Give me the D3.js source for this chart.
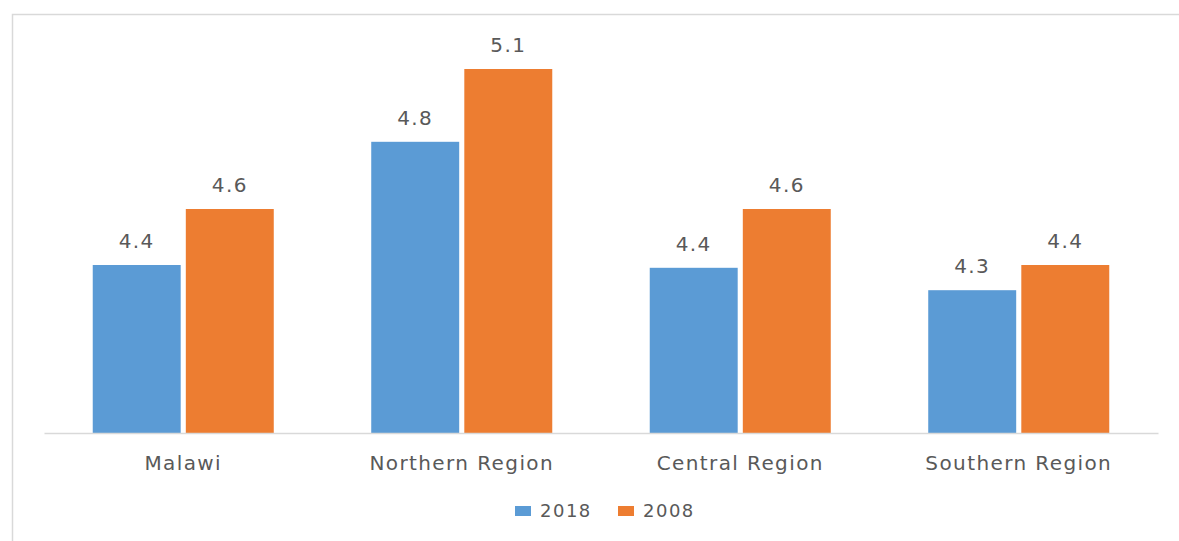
<!DOCTYPE html>
<meta charset="utf-8">
<style>
  body { margin: 0; background: #fff; overflow: hidden; }
  svg { display: block; }
  .lbl { font-family: "DejaVu Sans", sans-serif; fill: #595959; }
</style>
<body>
<script src="https://cdn.jsdelivr.net/npm/d3@7"></script>
<script>

// data
var categories = ["Malawi", "Northern Region", "Central Region", "Southern Region"];
var seriesNames = ["2018", "2008"];
var values2018 = [4.40, 4.84, 4.39, 4.31];
var values2008 = [4.60, 5.10, 4.60, 4.40];
var colors = ["#5b9bd5", "#ed7d31"];

var width = 1179, height = 541;

var svg = d3.select("body").append("svg")
    .attr("width", width)
    .attr("height", height);

// chart area frame (only top / left visible in the original)
svg.append("rect")
    .attr("x", 12.5).attr("y", 14.5)
    .attr("width", 1300).attr("height", 700)
    .attr("fill", "none")
    .attr("stroke", "#d9d9d9")
    .attr("stroke-width", 1.5);

// scales - the value axis does not start at zero
var x0 = d3.scaleBand()
    .domain(categories)
    .range([44, 1158])
    .paddingInner(0.35)
    .paddingOuter(0.175);

var x1 = d3.scaleBand()
    .domain(seriesNames)
    .range([0, x0.bandwidth()])
    .paddingInner(0.055);

var y = d3.scaleLinear()
    .domain([3.8, 5.3])
    .range([433, 13]);

var rows = categories.map(function(c, i) {
  return { cat: c, vals: [
    { s: "2018", v: values2018[i] },
    { s: "2008", v: values2008[i] }
  ]};
});

var groups = svg.selectAll("g.grp")
    .data(rows)
  .enter().append("g")
    .attr("class", "grp")
    .attr("transform", function(d) { return "translate(" + x0(d.cat) + ",0)"; });

groups.selectAll("rect")
    .data(function(d) { return d.vals; })
  .enter().append("rect")
    .attr("x", function(d) { return x1(d.s); })
    .attr("y", function(d) { return y(d.v); })
    .attr("width", x1.bandwidth())
    .attr("height", function(d) { return y(3.8) - y(d.v); })
    .attr("fill", function(d, i) { return colors[i]; });

// value labels
groups.selectAll("text.val")
    .data(function(d) { return d.vals; })
  .enter().append("text")
    .attr("class", "lbl val")
    .attr("x", function(d) { return x1(d.s) + x1.bandwidth() / 2; })
    .attr("y", function(d) { return y(d.v) - 17; })
    .attr("text-anchor", "middle")
    .style("font-size", "20px")
    .style("letter-spacing", "1.4px")
    .text(function(d) { return d3.format(".1f")(d.v); });

// category axis
var xAxis = svg.append("g")
    .attr("transform", "translate(0," + y(3.8) + ")")
    .call(d3.axisBottom(x0).tickSize(0).tickPadding(0));

xAxis.select(".domain").attr("stroke", "#d9d9d9").attr("stroke-width", 1.5);
xAxis.selectAll("text")
    .attr("class", "lbl")
    .attr("dy", null)
    .attr("y", 37)
    .style("font-size", "20px")
    .style("letter-spacing", "1.4px")
    .attr("fill", "#595959");

// legend
var legendX = [515, 618];
var legend = svg.selectAll("g.leg")
    .data(seriesNames)
  .enter().append("g")
    .attr("class", "leg")
    .attr("transform", function(d, i) { return "translate(" + legendX[i] + ",506)"; });

legend.append("rect")
    .attr("width", 16).attr("height", 10)
    .attr("fill", function(d, i) { return colors[i]; });

legend.append("text")
    .attr("class", "lbl")
    .attr("x", 25).attr("y", 11)
    .style("font-size", "18px")
    .style("letter-spacing", "1.5px")
    .text(function(d) { return d; });

</script>
</body>
